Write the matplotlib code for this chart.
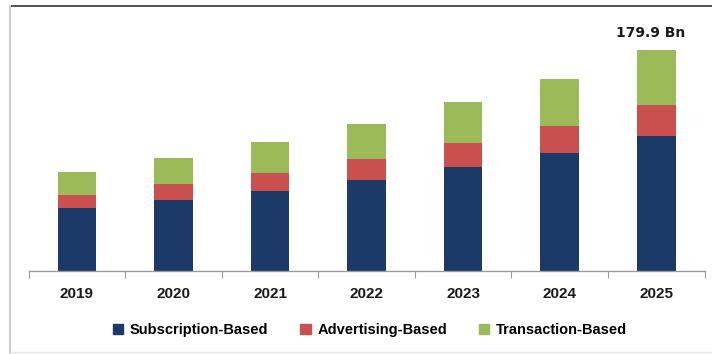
import matplotlib.pyplot as plt
import numpy as np
from matplotlib.lines import Line2D
from matplotlib.patches import Patch

years = ['2019', '2020', '2021', '2022', '2023', '2024', '2025']
subscription = [51.1, 57.6, 65.0, 74.2, 84.8, 95.9, 109.8]
advertising = [10.4, 13.0, 14.9, 16.6, 19.1, 22.3, 25.5]
transaction = [19.0, 21.2, 24.8, 29.0, 33.4, 38.3, 44.6]

blue = '#1b3a68'
red = '#c9504e'
green = '#9bbb59'

fig = plt.figure(figsize=(7.12, 3.54), dpi=100)
ax = fig.add_axes([0.0402, 0.2353, 0.9493, 0.6932])

x = np.arange(len(years))
sub = np.array(subscription)
adv = np.array(advertising)
tra = np.array(transaction)
w = 0.40
ax.bar(x, sub, w, color=blue)
ax.bar(x, adv, w, bottom=sub, color=red)
ax.bar(x, tra, w, bottom=sub + adv, color=green)

ax.set_xlim(-0.5, len(years) - 0.5)
ax.set_ylim(0, 200)

# total for the last year
total = sub[-1] + adv[-1] + tra[-1]
ax.annotate(f'{total:.1f} Bn', xy=(x[-1], total), xytext=(-4, 7),
            textcoords='offset points', ha='center', va='bottom',
            fontsize=10, fontweight='bold', family='DejaVu Sans', color='#1a1a1a')

for s in ['top', 'right', 'left']:
    ax.spines[s].set_visible(False)
ax.spines['bottom'].set_color('#9a9a9a')
ax.spines['bottom'].set_linewidth(1.0)
ax.set_yticks([])

ax.set_xticks(x)
ax.set_xticklabels(years, fontsize=11, fontweight='bold',
                   family='Liberation Sans', color='#1a1a1a')
ax.tick_params(axis='x', which='major', length=0, pad=12)
ax.set_xticks(np.arange(len(years) + 1) - 0.5, minor=True)
ax.tick_params(axis='x', which='minor', length=5, color='#9a9a9a', width=0.8)

handles = [Patch(color=blue), Patch(color=red), Patch(color=green)]
labels = ['Subscription-Based', 'Advertising-Based', 'Transaction-Based']
fig.legend(handles, labels, loc='center', bbox_to_anchor=(370 / 712, 1 - 330 / 354),
           ncol=3, frameon=False, handlelength=0.7, handleheight=0.7,
           handletextpad=0.45, columnspacing=2.2,
           prop={'family': 'Liberation Sans', 'weight': 'bold', 'size': 10.5})

# frame lines around the figure
fig.add_artist(Line2D([10 / 712, 1], [1 - 6 / 354] * 2, color='#333333', lw=1.2))
fig.add_artist(Line2D([10 / 712] * 2, [0, 1 - 6 / 354], color='#cccccc', lw=1.5))
fig.add_artist(Line2D([10 / 712, 1], [2 / 354] * 2, color='#e6e6e6', lw=1.0))

fig.savefig('out.png', dpi=100)
